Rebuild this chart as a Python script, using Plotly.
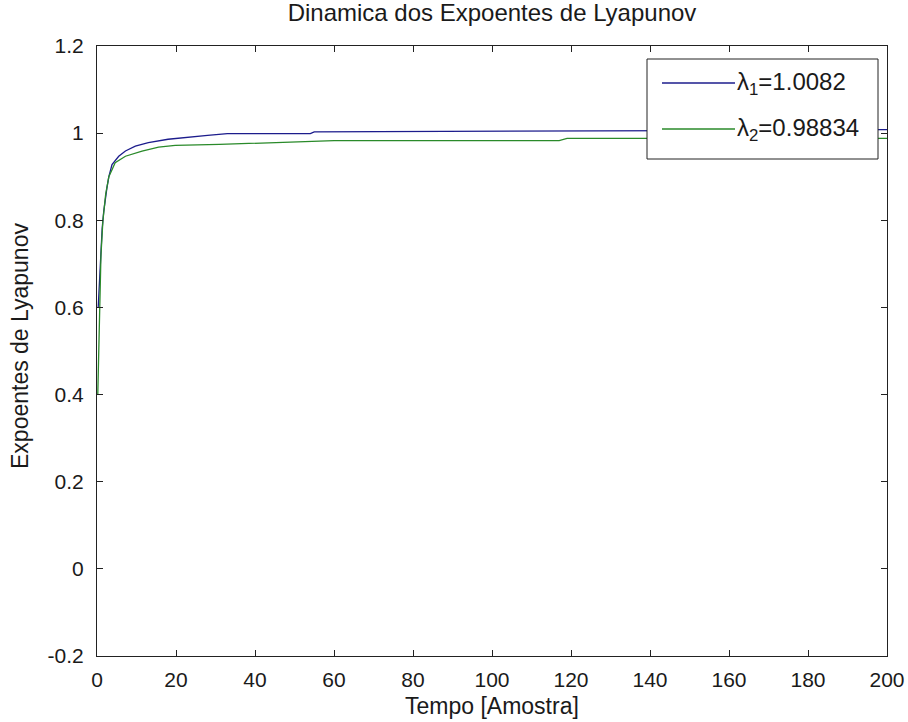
import plotly.graph_objects as go

# Data
x_l1 = [0.3, 0.8, 1.3, 1.7, 2.1, 2.5, 3.0, 3.8, 5.5, 7.2, 9.7, 13, 18, 23, 28, 33, 54, 55, 100, 150, 200]
lambda1 = [0.60, 0.70, 0.78, 0.82, 0.85, 0.874, 0.90, 0.928, 0.947, 0.959, 0.970, 0.978, 0.986, 0.991, 0.995, 0.999, 0.999, 1.003, 1.004, 1.006, 1.008]

x_l2 = [0.2, 0.6, 1.0, 1.5, 2.2, 3.0, 4.6, 7.2, 11.4, 15.6, 19.8, 31, 46, 60, 117, 119, 200]
lambda2 = [0.40, 0.60, 0.72, 0.80, 0.86, 0.90, 0.932, 0.947, 0.959, 0.968, 0.972, 0.974, 0.979, 0.983, 0.983, 0.988, 0.988]

legend_labels = ["λ<sub>1</sub>=1.0082", "λ<sub>2</sub>=0.98834"]
colors = ["#1c1c8c", "#2a8a2a"]

x_ticks = [0, 20, 40, 60, 80, 100, 120, 140, 160, 180, 200]
y_ticks = [-0.2, 0, 0.2, 0.4, 0.6, 0.8, 1.0, 1.2]
y_tick_text = ["-0.2", "0", "0.2", "0.4", "0.6", "0.8", "1", "1.2"]

FONT = "Liberation Sans, Arial, sans-serif"
FS = 21
TXT = "#1a1a1a"

fig = go.Figure()
fig.add_trace(go.Scatter(x=x_l1, y=lambda1, mode="lines", line=dict(color=colors[0], width=1.3), showlegend=False))
fig.add_trace(go.Scatter(x=x_l2, y=lambda2, mode="lines", line=dict(color=colors[1], width=1.3), showlegend=False))

axis_common = dict(showgrid=False, zeroline=False, showline=True, linecolor="#222", linewidth=1,
                   mirror="allticks", ticks="inside", ticklen=6, tickcolor="#222", automargin=False,
                   tickfont=dict(family=FONT, size=FS, color=TXT))

fig.update_layout(
    width=908, height=722,
    margin=dict(l=97, r=21, t=46, b=66),
    paper_bgcolor="white", plot_bgcolor="white",
    title=dict(text="Dinamica dos Expoentes de Lyapunov", x=(97 + 395) / 908, xanchor="center",
               y=1 - 13 / 722, yanchor="middle", yref="container", automargin=False,
               font=dict(family=FONT, size=24, color=TXT)),
    xaxis=dict(range=[0, 200], tickvals=x_ticks, ticklabelstandoff=5, **axis_common),
    yaxis=dict(range=[-0.2, 1.2], tickvals=y_ticks, ticktext=y_tick_text, ticklabelstandoff=8, **axis_common),
    showlegend=False,
)

# Axis titles
fig.add_annotation(xref="paper", yref="paper", x=0.5, y=0, yshift=-50, text="Tempo [Amostra]",
                   showarrow=False, xanchor="center", yanchor="middle", font=dict(family=FONT, size=23, color=TXT))
fig.add_annotation(xref="paper", yref="paper", x=0, y=(656 - 346) / 610, xshift=-77, text="Expoentes de Lyapunov",
                   showarrow=False, textangle=-90, xanchor="center", yanchor="middle",
                   font=dict(family=FONT, size=23, color=TXT))

# Manual legend box (MATLAB style)
x0, x1 = (647 - 97) / 790, (878 - 97) / 790
y0, y1 = (656 - 159) / 610, (656 - 59) / 610
fig.add_shape(type="rect", xref="paper", yref="paper", x0=x0, x1=x1, y0=y0, y1=y1,
              line=dict(color="#222", width=1), fillcolor="white", layer="above")
for i, (lab, col) in enumerate(zip(legend_labels, colors)):
    ypix = 83 if i == 0 else 129
    yp = (656 - ypix) / 610
    fig.add_shape(type="line", xref="paper", yref="paper", x0=(662 - 97) / 790, x1=(735 - 97) / 790,
                  y0=yp, y1=yp, line=dict(color=col, width=1.3), layer="above")
    fig.add_annotation(xref="paper", yref="paper", x=(735 - 97) / 790, y=yp, text=lab, showarrow=False,
                       xanchor="left", yanchor="middle", font=dict(family=FONT, size=24, color=TXT))

fig.write_html("out.html")
